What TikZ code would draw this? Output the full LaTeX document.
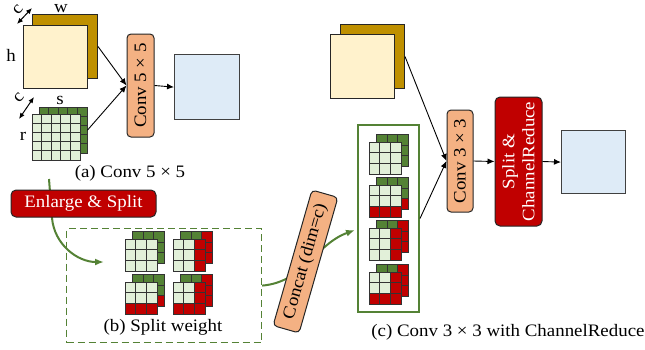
\documentclass[tikz,border=0pt]{standalone}
\usepackage{fontspec}
\setmainfont{Liberation Serif}[FakeStretch=1.08]
\usetikzlibrary{arrows.meta}

\definecolor{mapgold}{HTML}{BF9000}
\definecolor{mapcream}{HTML}{FFF2CC}
\definecolor{outblue}{HTML}{DEEBF7}
\definecolor{convorange}{HTML}{F4B183}
\definecolor{darkred}{HTML}{C00000}
\definecolor{kgreen}{HTML}{548235}
\definecolor{klight}{HTML}{E2F0D9}

\tikzset{
  mapback/.style={draw=black!85, fill=mapgold, line width=1pt, anchor=north west, inner sep=0pt},
  mapfront/.style={draw=black!85, fill=mapcream, line width=1pt, anchor=north west, inner sep=0pt},
  outbox/.style={draw=black!75, fill=outblue, line width=1.2pt, anchor=north west, inner sep=0pt},
  opbox/.style={draw=black!85, fill=convorange, rounded corners=4pt, line width=1pt, inner sep=0pt},
  redbox/.style={draw=black!85, fill=darkred, text=white, rounded corners=5pt, line width=1pt, inner sep=0pt},
  flow/.style={-{Latex[length=7pt,width=6pt]}, line width=0.9pt},
  greenflow/.style={-{Latex[length=9pt,width=7pt]}, draw=kgreen, line width=2pt},
  dimarrow/.style={{Latex[length=6pt,width=5pt]}-{Latex[length=6pt,width=5pt]}, line width=1pt},
  cell/.style={draw=black!80, line width=0.7pt},
  dimlabel/.style={inner sep=0pt}
}

\begin{document}
\begin{tikzpicture}[x=1pt, y=-1pt, every node/.append style={font=\fontsize{17.5}{20}\selectfont}]
\useasboundingbox (0,0) rectangle (645,349);

%TEIL (a): CONV 5x5
\node[mapback, minimum width=65, minimum height=64] (fmapaback) at (32,14) {};
\node[mapfront, minimum width=64, minimum height=63] (fmapafront) at (23,25) {};
\node[dimlabel] (labw) at (61,9) {w};
\node[dimlabel] (labh) at (11,55) {h};
\coordinate (dimca1) at (17,24);
\coordinate (dimca2) at (32,8);
\draw[dimarrow] (dimca1) -- (dimca2);
\node[dimlabel, rotate=50] (labca) at (18,10) {c};

%KERN 5x5 (hinten gruen, vorne hellgruen)
\foreach \i in {0,...,4}{
  \foreach \j in {0,...,4}{
    \draw[cell, fill=kgreen] (39+\i*9.6, 107+\j*9.2) rectangle ++(9.6,9.2);
  }
}
\foreach \i in {0,...,4}{
  \foreach \j in {0,...,4}{
    \draw[cell, fill=klight] (32+\i*9.6, 114+\j*9.2) rectangle ++(9.6,9.2);
  }
}
\node[anchor=north west, inner sep=0pt, minimum width=48, minimum height=46] (kera) at (39,107) {};
\node[dimlabel] (labs) at (60,100) {s};
\node[dimlabel] (labr) at (23,136) {r};
\coordinate (dimcb1) at (19,119);
\coordinate (dimcb2) at (34,97);
\draw[dimarrow] (dimcb1) -- (dimcb2);
\node[dimlabel, rotate=50] (labcb) at (19,98) {c};

\node[opbox, rotate=90, minimum width=103, minimum height=27] (conva) at (140.5,85.5) {Conv 5 × 5};
\node[outbox, minimum width=65, minimum height=65] (outa) at (174,54) {};
\draw[flow] (fmapaback.east) -- (conva.north);
\draw[flow] (kera.east) -- (conva.north);
\draw[flow] (conva.south) -- (outa.west);
\node (capa) at (130,173) {(a) Conv 5 × 5};

%TEIL (b): SPLIT WEIGHT
\coordinate (capgap) at (49,179);
\coordinate (splitin) at (104,262);
\draw[greenflow] (capgap) -- (52,218) to[out=-85, in=180] (splitin);
\node[redbox, minimum width=145, minimum height=27] (enlarge) at (83.5,203.5) {Enlarge \& Split};
\node[draw=kgreen, dashed, dash pattern=on 7pt off 4pt, line width=1.2pt, anchor=north west, inner sep=0pt,
      minimum width=195, minimum height=114] (splitbox) at (66,228) {};

%KERNE 3x3 (x, y, rechte Spalte rot, untere Zeile rot)
\foreach \kx/\ky/\rc/\rb in {125/239/0/0, 173/239/1/0, 125/282/0/1, 173/282/1/1,
                             369/142/0/0, 369/185/0/1, 369/228/1/0, 369/272/1/1}{
  \foreach \i in {0,1,2}{
    \foreach \j in {0,1,2}{
      \pgfmathtruncatemacro\isred{\rc*(\i==2)+\rb*(\j==2)}
      \ifnum\isred>0 \def\cc{darkred}\else\def\cc{kgreen}\fi
      \draw[cell, fill=\cc] (\kx+7.5+\i*10.67, \ky-7.5+\j*10.67) rectangle ++(10.67,10.67);
    }
  }
  \foreach \i in {0,1,2}{
    \foreach \j in {0,1,2}{
      \pgfmathtruncatemacro\isred{\rc*(\i==2)+\rb*(\j==2)}
      \ifnum\isred>0 \def\cc{darkred}\else\def\cc{klight}\fi
      \draw[cell, fill=\cc] (\kx+\i*10.67, \ky+\j*10.67) rectangle ++(10.67,10.67);
    }
  }
}
\node (capb) at (163,327) {(b) Split weight};

%CONCAT
\coordinate (catin) at (355,230);
\draw[greenflow] (splitbox.east) to[out=5, in=200] (catin);
\node[opbox, rotate=74, minimum width=141, minimum height=27] (concat) at (305.5,261.5) {Concat (dim=c)};

%TEIL (c): CONV 3x3 MIT CHANNELREDUCE
\node[draw=kgreen, line width=2pt, anchor=north west, inner sep=0pt, minimum width=61, minimum height=187] (catbox) at (357,124) {};
\node[mapback, minimum width=64, minimum height=64] (fmapcback) at (340,24) {};
\node[mapfront, minimum width=64, minimum height=64] (fmapcfront) at (330,34) {};
\node[opbox, rotate=90, minimum width=102, minimum height=26] (convc) at (460,161) {Conv 3 × 3};
\node[redbox, rotate=90, minimum width=129, minimum height=47, align=center] (splitc) at (518.5,161.5) {Split \&\\ChannelReduce};
\node[outbox, minimum width=64, minimum height=63] (outc) at (561,130) {};
\draw[flow] (fmapcback.east) -- (convc.north);
\draw[flow] (catbox.east) -- (convc.north);
\draw[flow] (convc.south) -- (splitc.north);
\draw[flow] (splitc.south) -- (outc.west);
\node (capc) at (508,332) {(c) Conv 3 × 3 with ChannelReduce};

\end{tikzpicture}
\end{document}
